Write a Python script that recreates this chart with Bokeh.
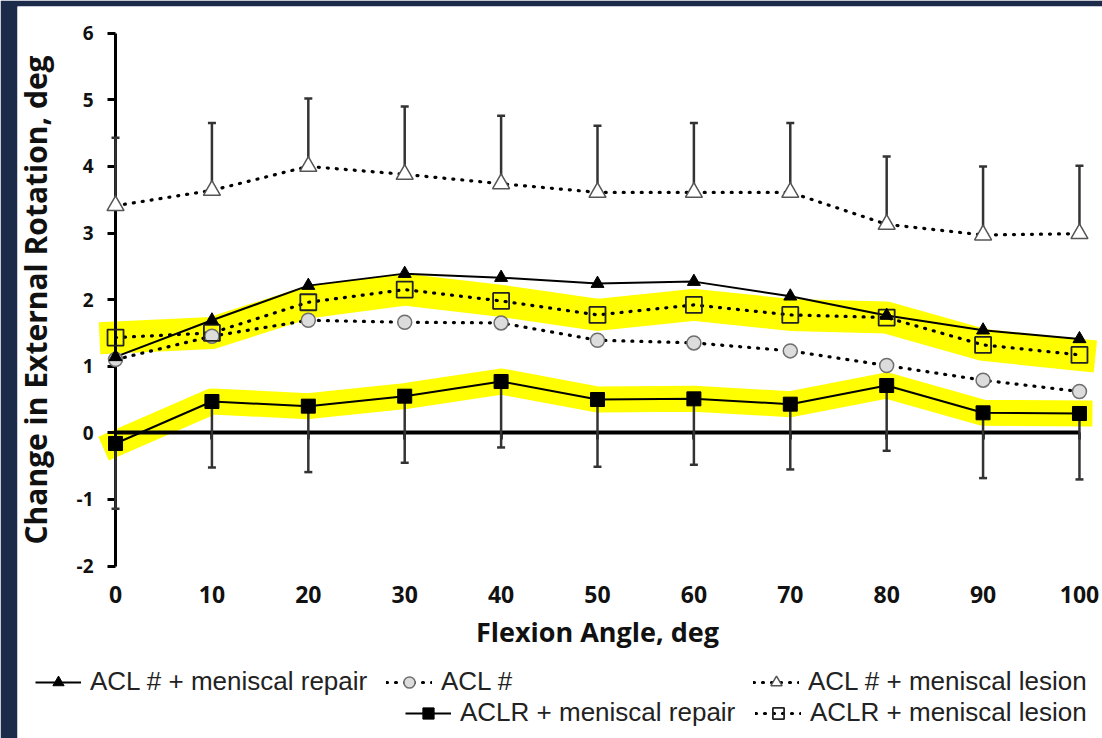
from bokeh.plotting import figure
from bokeh.models import LinearAxis, FixedTicker, Legend, LegendItem, Range1d
from bokeh.embed import file_html
from bokeh.resources import INLINE

# ---- data ----
flexion = [0, 10, 20, 30, 40, 50, 60, 70, 80, 90, 100]
acl_repair = [1.14, 1.69, 2.21, 2.39, 2.33, 2.24, 2.27, 2.05, 1.76, 1.54, 1.41]
acl_def = [1.10, 1.45, 1.69, 1.66, 1.65, 1.39, 1.35, 1.23, 1.01, 0.79, 0.62]
acl_lesion = [3.41, 3.64, 4.00, 3.88, 3.74, 3.61, 3.61, 3.61, 3.13, 2.97, 2.99]
acl_lesion_upper = [4.43, 4.65, 5.02, 4.90, 4.76, 4.61, 4.65, 4.65, 4.15, 4.00, 4.01]
aclr_repair = [-0.16, 0.47, 0.40, 0.55, 0.77, 0.50, 0.51, 0.43, 0.71, 0.30, 0.29]
aclr_repair_lower = [-1.14, -0.52, -0.59, -0.45, -0.22, -0.51, -0.48, -0.55, -0.27, -0.68, -0.70]
aclr_lesion = [1.43, 1.50, 1.96, 2.15, 1.98, 1.77, 1.92, 1.77, 1.73, 1.32, 1.17]
y_ticks = [-2, -1, 0, 1, 2, 3, 4, 5, 6]
labels = ["ACL # + meniscal repair", "ACL #", "ACL # + meniscal lesion",
          "ACLR + meniscal repair", "ACLR + meniscal lesion"]

FONT = "Open Sans"
LEG_FONT = "Liberation Sans"
DOT = "1 8"

p = figure(width=1102, height=738, output_backend="svg", toolbar_location=None,
           x_range=Range1d(-10.17, 102.39), y_range=Range1d(-4.59, 6.401),
           x_axis_location=None, y_axis_location=None,
           min_border_left=17, min_border_right=0, min_border_top=6, min_border_bottom=0,
           border_fill_color="#1d2b4a", background_fill_color="white",
           outline_line_color=None)
p.xgrid.visible = False
p.ygrid.visible = False

# ---- axes ----
yaxis = LinearAxis(fixed_location=0, bounds=(-2, 6),
                   ticker=FixedTicker(ticks=y_ticks, minor_ticks=[]),
                   major_label_overrides={t: str(t) for t in y_ticks},
                   axis_line_width=3, axis_line_color="black",
                   major_tick_line_width=3, major_tick_line_color="black",
                   major_tick_out=8, major_tick_in=0, minor_tick_line_color=None,
                   major_label_standoff=14, major_label_text_font=FONT,
                   major_label_text_font_size="19px", major_label_text_font_style="bold",
                   major_label_text_color="#111111",
                   axis_label="Change in External Rotation, deg",
                   axis_label_text_font=FONT, axis_label_text_font_size="30px",
                   axis_label_text_font_style="bold", axis_label_text_color="#111111",
                   axis_label_standoff=18)
yaxis.level = "underlay"
p.add_layout(yaxis, "left")

xaxis = LinearAxis(fixed_location=0, bounds=(0, 100),
                   ticker=FixedTicker(ticks=flexion, minor_ticks=[]),
                   axis_line_width=4, axis_line_color="black",
                   major_tick_line_width=2.5, major_tick_line_color="black",
                   major_tick_out=7, major_tick_in=0, minor_tick_line_color=None,
                   major_label_standoff=146, major_label_text_font=FONT,
                   major_label_text_font_size="23px", major_label_text_font_style="bold",
                   major_label_text_color="#111111",
                   axis_label="Flexion Angle, deg",
                   axis_label_text_font=FONT, axis_label_text_font_size="27px",
                   axis_label_text_font_style="bold", axis_label_text_color="#111111",
                   axis_label_standoff=7)
xaxis.level = "underlay"
p.add_layout(xaxis, "below")

# ---- yellow highlight bands ----
p.line(flexion, aclr_lesion, line_color="#ffff00", line_width=32,
       line_join="round", line_cap="square", level="image")
p.line(flexion, aclr_repair, line_color="#ffff00", line_width=26,
       line_join="round", line_cap="square", level="image")

# ---- error bars ----
EB = "#333333"
p.segment(x0=flexion, y0=acl_lesion, x1=flexion, y1=acl_lesion_upper,
          line_color=EB, line_width=2.5)
p.scatter(flexion, acl_lesion_upper, marker="dash", size=8, line_color=EB, line_width=2.5)
p.segment(x0=flexion, y0=aclr_repair, x1=flexion, y1=aclr_repair_lower,
          line_color=EB, line_width=2.5)
p.scatter(flexion, aclr_repair_lower, marker="dash", size=8, line_color=EB, line_width=2.5)

# ---- series ----
l_lesion = p.line(flexion, acl_lesion, line_color="black", line_width=3.2,
                  line_dash=DOT, line_cap="round")
l_def = p.line(flexion, acl_def, line_color="black", line_width=3.2,
               line_dash=DOT, line_cap="round")
l_aclr_lesion = p.line(flexion, aclr_lesion, line_color="black", line_width=3.2,
                       line_dash=DOT, line_cap="round")
l_repair = p.line(flexion, acl_repair, line_color="black", line_width=2)
l_aclr_repair = p.line(flexion, aclr_repair, line_color="black", line_width=2)

m_lesion = p.scatter(flexion, acl_lesion, marker="triangle", size=17,
                     fill_color="white", line_color="#555555", line_width=1.5)
m_def = p.scatter(flexion, acl_def, marker="circle", size=14,
                  fill_color="#dcdcdc", line_color="#6e6e6e", line_width=1.5)
m_aclr_lesion = p.scatter(flexion, aclr_lesion, marker="square", size=16,
                          fill_color=None, line_color="#222222", line_width=1.8)
m_repair = p.scatter(flexion, acl_repair, marker="triangle", size=13,
                     fill_color="black", line_color="black")
m_aclr_repair = p.scatter(flexion, aclr_repair, marker="square", size=14,
                          fill_color="black", line_color="black")

# ---- legends ----
items = [
    (labels[0], [l_repair, m_repair], 18, 41),
    (labels[1], [l_def, m_def], 369, 41),
    (labels[2], [l_lesion, m_lesion], 736, 41),
    (labels[3], [l_aclr_repair, m_aclr_repair], 388, 10),
    (labels[4], [l_aclr_lesion, m_aclr_lesion], 738, 10),
]
for lab, rends, lx, ly in items:
    leg = Legend(items=[LegendItem(label=lab, renderers=rends)],
                 location=(lx, ly), padding=0, margin=0, spacing=0,
                 border_line_color=None, background_fill_alpha=0,
                 glyph_width=46, glyph_height=28, label_height=28,
                 label_standoff=9, label_text_font=LEG_FONT,
                 label_text_font_size="26px", label_text_color="#222222")
    p.add_layout(leg, "center")

open("out.html", "w").write(file_html(p, INLINE))
